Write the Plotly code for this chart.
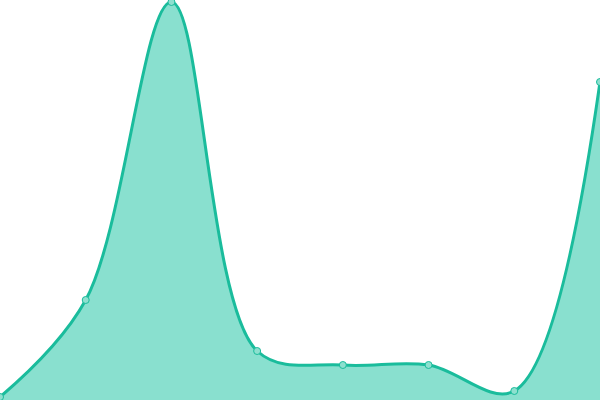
import plotly.graph_objects as go

x_vals = [0, 1, 2, 3, 4, 5, 6, 7]
y_vals = [3, 100, 398, 49, 35, 35, 9, 318]

LINE = "#1abc9c"
FILL = "#89e0cf"

fig = go.Figure()
fig.add_trace(go.Scatter(
    x=x_vals, y=y_vals,
    mode="lines+markers",
    line=dict(color=LINE, width=3, shape="spline", smoothing=1),
    fill="tozeroy",
    fillcolor=FILL,
    marker=dict(size=7, color="#8de0cf", line=dict(color=LINE, width=1)),
    showlegend=False,
    cliponaxis=False,
))

fig.update_layout(
    width=600, height=400,
    margin=dict(l=0, r=0, t=0, b=0),
    paper_bgcolor="white",
    plot_bgcolor="white",
    xaxis=dict(range=[0, 7], visible=False),
    yaxis=dict(range=[0, 400], visible=False),
)

# drop the browser's default body margin so the plot sits flush at (0, 0)
fig.write_html(
    "out.html",
    config={"displayModeBar": False},
    post_script="document.body.style.margin='0';document.body.style.overflow='hidden';",
)
